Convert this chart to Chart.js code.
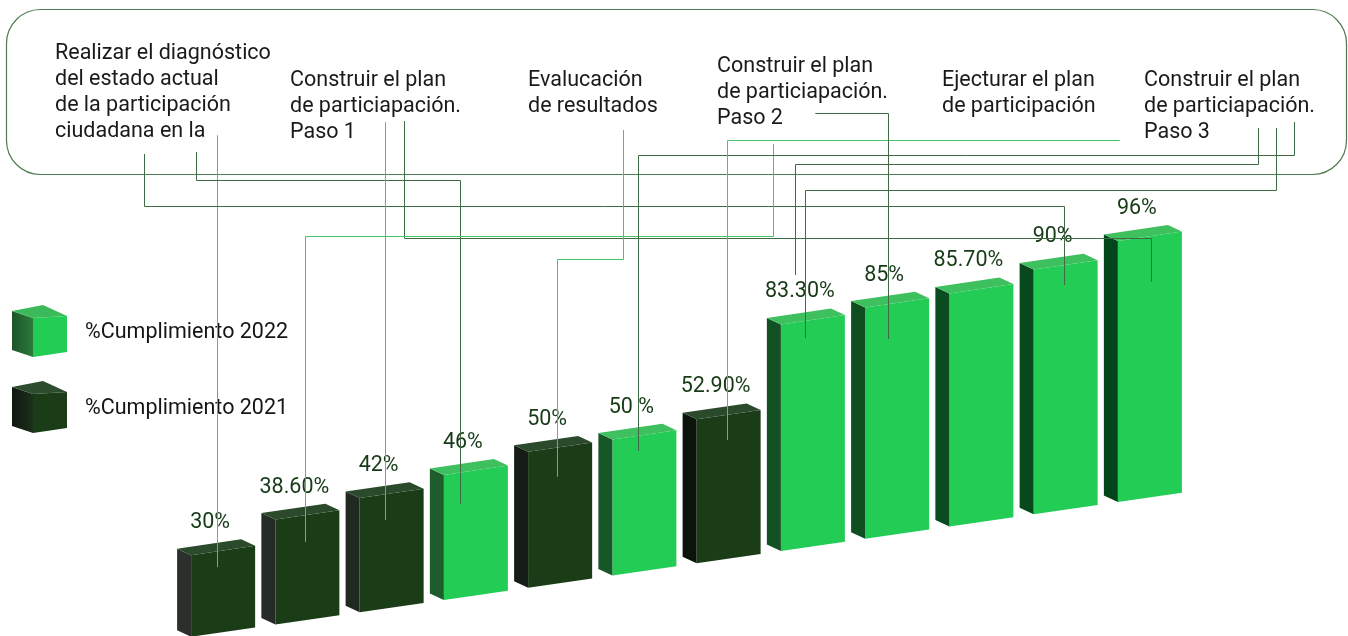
<!DOCTYPE html>
<html>
<head>
<meta charset="utf-8">
<script src="https://cdn.jsdelivr.net/npm/chart.js@4.4.0/dist/chart.umd.min.js"></script>
<style>
html,body{margin:0;padding:0;background:#fff;overflow:hidden}
#wrap{width:1348px;height:636px;position:relative}
canvas{display:block}
</style>
</head>
<body>
<div id="wrap"><canvas id="c" width="1348" height="636" style="width:1348px;height:636px"></canvas></div>
<script>
// ---------------- DATA ----------------
const categories = ['Actividad 1','Actividad 2','Actividad 3','Actividad 4','Actividad 5','Actividad 6',
                    'Actividad 7','Actividad 8','Actividad 9','Actividad 10','Actividad 11','Actividad 12'];
const values2022 = [null, null, null, 46, null, 50, null, 83.3, 85, 85.7, 90, 96];
const values2021 = [30, 38.6, 42, null, 50, null, 52.9, null, null, null, null, null];
const valueLabels = ['30%','38.60%','42%','46%','50%','50 %','52.90%','83.30%','85%','85.70%','90%','96%'];
const seriesNames = ['%Cumplimiento 2022', '%Cumplimiento 2021'];
const stepTexts = [
  ['Realizar el diagnóstico','del estado actual','de la participación','ciudadana en la'],
  ['Construir el plan','de particiapación.','Paso 1'],
  ['Evalucación','de resultados'],
  ['Construir el plan','de particiapación.','Paso 2'],
  ['Ejecturar el plan','de participación'],
  ['Construir el plan','de particiapación.','Paso 3']
];

// ---------------- LAYOUT / STYLE ----------------
const FONT = 'Roboto, "Noto Sans", sans-serif';
const K = 0.1454;      // perspective slope of the floor line
const X0 = 443.9;      // x where the skew is zero
const DX = -14, DY = -6.5;   // depth of the 3D boxes
const stepPos = [[55,58.5],[290,85.5],[528,85.5],[717,72],[942,85.5],[1144,86]];
const LINE_H = 26;
const GREEN_LINE = '#45c46c', DARK_LINE = '#3e6b44';
// connectors: start point, routing y, target bar, offset inside bar (from front-left / front-top)
const connectors = [
  {c:GREEN_LINE, from:[217,135],  ry:135,   bar:0,  dx:25.9, dy:12},
  {c:DARK_LINE,  from:[144,154],  ry:206,   bar:10, dx:30.4, dy:15.5},
  {c:DARK_LINE,  from:[196,152],  ry:180,   bar:3,  dx:16.1, dy:29},
  {c:GREEN_LINE, from:[385,122],  ry:122,   bar:2,  dx:25.4, dy:22},
  {c:DARK_LINE,  from:[404,121],  ry:237.5, bar:11, dx:33.6, dy:41},
  {c:GREEN_LINE, from:[773,144],  ry:236,   bar:1,  dx:29.6, dy:22.6},
  {c:GREEN_LINE, from:[623,130],  ry:259,   bar:4,  dx:28.9, dy:25},
  {c:DARK_LINE,  from:[1294,122], ry:154.5, bar:5,  dx:25.6, dy:11.5},
  {c:GREEN_LINE, from:[1119,140], ry:140,   bar:6,  dx:30.4, dy:20.6},
  {c:DARK_LINE,  from:[815,113],  ry:113,   bar:8,  dx:22.9, dy:31.4},
  {c:DARK_LINE,  from:[1258,128], ry:164,   bar:7,  dx:14.1, dy:-49.4},
  {c:DARK_LINE,  from:[1276,128], ry:189.5, bar:7,  dx:24.1, dy:13.6}
];

const styles = [
  {front:'#22cc55', top:'#3fc05f', sideA:'#1f5c2c', sideB:'#03451a', iA:3, iB:11,
   legSideA:'#1c5427', legSideB:'#2c7a3c', legTop:'#3cba5b'},
  {front:'#1a3c17', top:'#2b4a2b', sideA:'#2c302c', sideB:'#0b140b', iA:0, iB:6,
   legSideA:'#0f180f', legSideB:'#1b301b', legTop:'#2e4c2e'}
];

function hex2rgb(h){h=h.replace('#','');return [0,2,4].map(i=>parseInt(h.substr(i,2),16));}
function mix(a,b,t){t=Math.max(0,Math.min(1,t));const A=hex2rgb(a),B=hex2rgb(b);
  return 'rgb('+A.map((v,i)=>Math.round(v+(B[i]-v)*t)).join(',')+')';}
function sy(x,y){return y - K*(x - X0);}
function poly(ctx, pts, fill){ctx.beginPath();ctx.moveTo(pts[0][0],pts[0][1]);
  for(let i=1;i<pts.length;i++)ctx.lineTo(pts[i][0],pts[i][1]);ctx.closePath();ctx.fillStyle=fill;ctx.fill();}

function barGeom(chart, idx){
  for(let d=0; d<chart.data.datasets.length; d++){
    const v = chart.data.datasets[d].data[idx];
    if(v==null) continue;
    const el = chart.getDatasetMeta(d).data[idx];
    const p = el.getProps(['x','y','base','width'], true);
    const fl = p.x - p.width/2, fr = p.x + p.width/2;
    return {d, x:p.x, fl, fr, top:sy(fl,p.y), topR:sy(fr,p.y), bot:sy(fl,p.base), botR:sy(fr,p.base)};
  }
  return null;
}

const plugin3d = {
  id:'plugin3d',
  beforeDatasetDraw(chart){ const ctx=chart.ctx; ctx.save(); ctx.transform(1,-K,0,1,0,K*X0); },
  afterDatasetDraw(chart){ chart.ctx.restore(); },
  afterDatasetsDraw(chart){
    const ctx = chart.ctx;
    ctx.save();
    for(let i=0;i<categories.length;i++){
      const g = barGeom(chart,i); if(!g) continue;
      const s = styles[g.d];
      const side = mix(s.sideA, s.sideB, (i - s.iA)/(s.iB - s.iA));
      poly(ctx, [[g.fl,g.top],[g.fl+DX,g.top+DY],[g.fl+DX,g.bot+DY],[g.fl,g.bot]], side);
      poly(ctx, [[g.fl,g.top],[g.fr,g.topR],[g.fr+DX,g.topR+DY],[g.fl+DX,g.top+DY]], s.top);
      // value label
      ctx.font = '21.5px ' + FONT;
      ctx.fillStyle = '#173a17';
      ctx.textAlign = 'center';
      ctx.textBaseline = 'alphabetic';
      ctx.fillText(valueLabels[i], g.x - 13, g.top - 27);
    }
    ctx.restore();
  },
  afterDraw(chart){
    const ctx = chart.ctx;
    ctx.save();
    // rounded callout box
    ctx.beginPath();
    ctx.roundRect(6.5, 9.5, 1340, 165, 34);
    ctx.strokeStyle = '#4f7a4f'; ctx.lineWidth = 1.2; ctx.stroke();
    // step texts
    ctx.font = '21.5px ' + FONT;
    ctx.fillStyle = '#1a1a1a'; ctx.textAlign='left'; ctx.textBaseline='alphabetic';
    stepTexts.forEach((lines,k)=>{
      lines.forEach((t,j)=>ctx.fillText(t, stepPos[k][0], stepPos[k][1] + j*LINE_H));
    });
    // legend with cubes
    chart.data.datasets.forEach((ds,k)=>{
      const s = styles[k];
      const oy = k*76;
      const grad = ctx.createLinearGradient(12,0,33,0);
      grad.addColorStop(0, s.legSideA); grad.addColorStop(1, s.legSideB);
      poly(ctx, [[12,311+oy],[33,318+oy],[33,357+oy],[12,350+oy]], grad);
      poly(ctx, [[12,311+oy],[43,305+oy],[67,316+oy],[33,318+oy]], s.legTop);
      poly(ctx, [[33,318+oy],[67,316+oy],[67,352+oy],[33,357+oy]], s.front);
      ctx.font = '21.5px ' + FONT; ctx.fillStyle = '#151515'; ctx.textAlign='left';
      ctx.fillText(ds.label, 85, 338 + oy);
    });
    // connectors
    ctx.lineWidth = 1;
    connectors.forEach(cn=>{
      const g = barGeom(chart, cn.bar); if(!g) return;
      const ex = Math.round(g.fl + cn.dx) + 0.5;
      const ey = g.top + cn.dy;
      const fx = Math.round(cn.from[0]) + 0.5, fy = cn.from[1];
      const ry = Math.round(cn.ry) + 0.5;
      ctx.beginPath();
      ctx.moveTo(fx, fy); ctx.lineTo(fx, ry); ctx.lineTo(ex, ry); ctx.lineTo(ex, ey);
      ctx.strokeStyle = cn.c; ctx.stroke();
    });
    ctx.restore();
  }
};

new Chart(document.getElementById('c'), {
  type:'bar',
  data:{
    labels: categories,
    datasets:[
      {label:seriesNames[0], data:values2022, backgroundColor:styles[0].front, grouped:false, clip:false, borderWidth:0},
      {label:seriesNames[1], data:values2021, backgroundColor:styles[1].front, grouped:false, clip:false, borderWidth:0}
    ]
  },
  options:{
    responsive:false, animation:false, events:[],
    layout:{padding:{left:181, right:156, top:328, bottom:36}},
    datasets:{bar:{barPercentage:0.76, categoryPercentage:1}},
    scales:{
      x:{display:false},
      y:{display:false, min:0, max:100}
    },
    plugins:{legend:{display:false}, tooltip:{enabled:false}}
  },
  plugins:[plugin3d]
});
</script>
</body>
</html>
